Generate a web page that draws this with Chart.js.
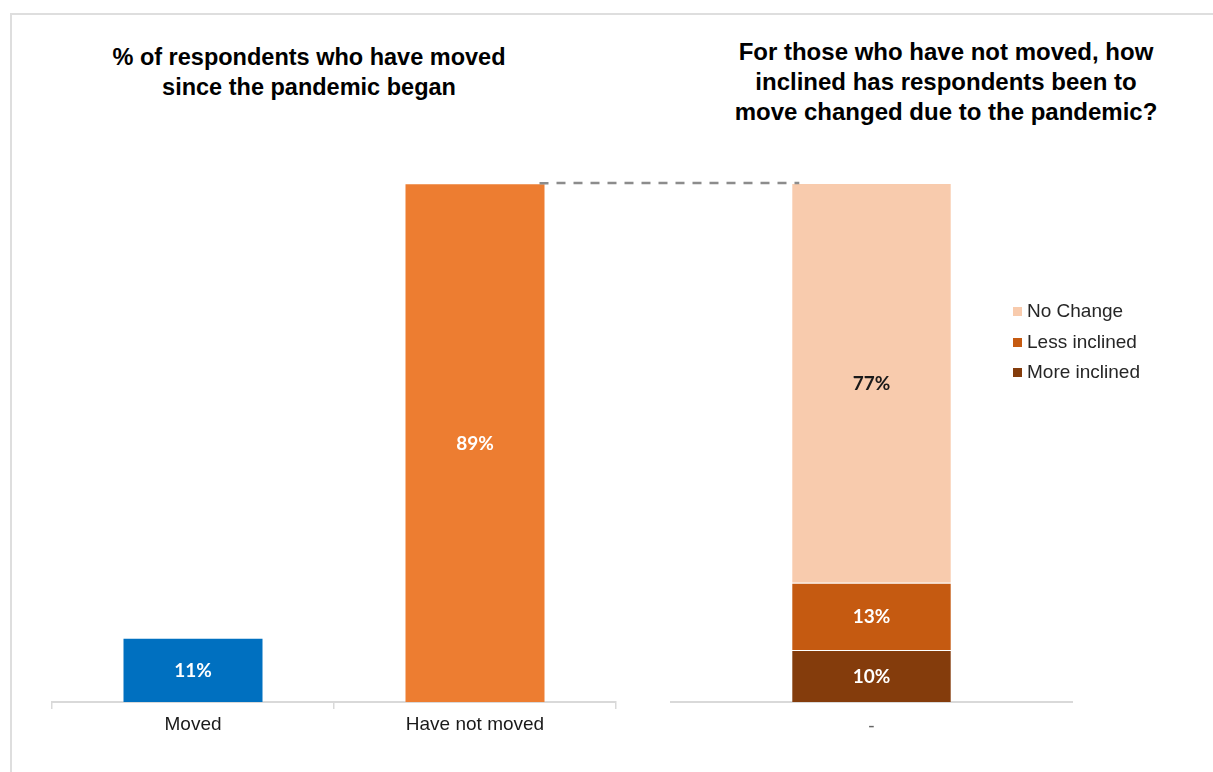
<!DOCTYPE html>
<html>
<head>
<meta charset="utf-8">
<script src="https://cdn.jsdelivr.net/npm/chart.js@4/dist/chart.umd.min.js"></script>
<style>
  body { margin: 0; background: #fff; overflow: hidden; }
  #wrap { position: relative; width: 1213px; height: 772px; overflow: hidden; }
  #frame { position: absolute; left: 10px; top: 13px; width: 1400px; height: 900px;
           border-top: 2px solid #dedede; border-left: 2px solid #dedede; }
  .title { position: absolute; font-family: "Liberation Sans", Arial, sans-serif; font-weight: bold;
           font-size: 23.5px; line-height: 30px; color: #000; text-align: center; }
  canvas { position: absolute; top: 0; }
  #legend { position: absolute; left: 1013px; top: 297px; font-family: "Liberation Sans", Arial, sans-serif;
            font-size: 19px; color: #262626; }
  #legend div { height: 30.5px; line-height: 28px; white-space: nowrap; }
  #legend span { display: inline-block; width: 9px; height: 9px; margin-right: 5px; vertical-align: 1px; }
</style>
</head>
<body>
<div id="wrap">
  <div id="frame"></div>
  <div class="title" style="left:59px; width:500px; top:42px;">% of respondents who have moved<br>since the pandemic began</div>
  <div class="title" style="left:696px; width:500px; top:37px; font-size:24px;">For those who have not moved, how<br>inclined has respondents been to<br>move changed due to the pandemic?</div>
  <canvas id="leftChart" width="660" height="772" style="left:0px"></canvas>
  <canvas id="rightChart" width="553" height="772" style="left:660px"></canvas>
  <canvas id="overlay" width="1213" height="772" style="left:0px; pointer-events:none"></canvas>
  <div id="legend"></div>
</div>
<script>
  const movedLabels = ['Moved', 'Have not moved'];
  const movedValues = [11, 89];
  const movedColors = ['#0070C0', '#ED7D31'];

  const inclinedLabels = ['-'];
  const moreInclined = [10];
  const lessInclined = [13];
  const noChange = [77];

  const tickFont = { family: '"Liberation Sans", Arial, sans-serif', size: 19 };

  // writes the value in the middle of each bar segment
  const barValues = {
    id: 'barValues',
    afterDatasetsDraw(chart) {
      const ctx = chart.ctx;
      ctx.save();
      ctx.font = 'bold 19px Lato, "Open Sans", sans-serif';
      ctx.textAlign = 'center';
      ctx.textBaseline = 'middle';
      chart.data.datasets.forEach((ds, i) => {
        chart.getDatasetMeta(i).data.forEach((bar, j) => {
          ctx.fillStyle = ds.valueColor || '#fff';
          ctx.fillText(ds.data[j] + '%', bar.x, (bar.y + bar.base) / 2 + 1);
        });
      });
      ctx.restore();
    }
  };

  const leftChart = new Chart(document.getElementById('leftChart'), {
    type: 'bar',
    data: {
      labels: movedLabels,
      datasets: [{
        data: movedValues,
        backgroundColor: movedColors,
        borderColor: 'rgba(255,255,255,0.25)',
        borderWidth: 1,
        categoryPercentage: 1,
        barPercentage: 0.5
      }]
    },
    options: {
      responsive: false,
      animation: false,
      layout: { padding: { left: 52, right: 44, top: 119, bottom: 0 } },
      plugins: { legend: { display: false }, tooltip: { enabled: false } },
      scales: {
        x: {
          afterFit: (s) => { s.height = 70; },
          grid: { offset: true, drawOnChartArea: false, drawTicks: true, tickLength: 7, color: '#d9d9d9', lineWidth: 1.5 },
          border: { display: true, color: '#d9d9d9', width: 2 },
          ticks: { font: tickFont, color: '#1a1a1a', padding: 4 }
        },
        y: { display: false, min: 0, max: 100 }
      }
    },
    plugins: [barValues]
  });

  const rightChart = new Chart(document.getElementById('rightChart'), {
    type: 'bar',
    data: {
      labels: inclinedLabels,
      datasets: [
        { label: 'More inclined', data: moreInclined, backgroundColor: '#843C0C' },
        { label: 'Less inclined', data: lessInclined, backgroundColor: '#C55A11' },
        { label: 'No Change', data: noChange, backgroundColor: '#F8CBAD', valueColor: '#1a1a1a' }
      ]
    },
    options: {
      responsive: false,
      animation: false,
      datasets: { bar: { categoryPercentage: 1, barPercentage: 0.4, borderColor: 'rgba(255,255,255,0.15)', borderWidth: 1 } },
      layout: { padding: { left: 11, right: 141, top: 183, bottom: 0 } },
      plugins: { legend: { display: false }, tooltip: { enabled: false } },
      scales: {
        x: {
          stacked: true,
          afterFit: (s) => { s.height = 70; },
          grid: { display: false, drawTicks: false },
          border: { display: true, color: '#d9d9d9', width: 2 },
          ticks: { font: tickFont, color: '#666', padding: 13 }
        },
        y: { display: false, stacked: true, min: 0, max: 100 }
      }
    },
    plugins: [barValues]
  });

  // legend, top segment first
  const legend = document.getElementById('legend');
  rightChart.data.datasets.slice().reverse().forEach((ds) => {
    const row = document.createElement('div');
    row.innerHTML = '<span style="background:' + ds.backgroundColor + '"></span>' + ds.label;
    legend.appendChild(row);
  });

  // dashed connector from the top of "Have not moved" to the top of the stack
  const leftBar = leftChart.getDatasetMeta(0).data[1];
  const topIdx = rightChart.data.datasets.length - 1;
  const rightBar = rightChart.getDatasetMeta(topIdx).data[0];
  const rightOffset = 660;
  const ctx = document.getElementById('overlay').getContext('2d');
  ctx.strokeStyle = '#8c8c8c';
  ctx.lineWidth = 2.5;
  ctx.setLineDash([9, 8]);
  ctx.beginPath();
  ctx.moveTo(leftBar.x + leftBar.width / 2 - 6, leftBar.y);
  ctx.lineTo(rightOffset + rightBar.x - rightBar.width / 2 + 8, rightBar.y);
  ctx.stroke();
</script>
</body>
</html>
